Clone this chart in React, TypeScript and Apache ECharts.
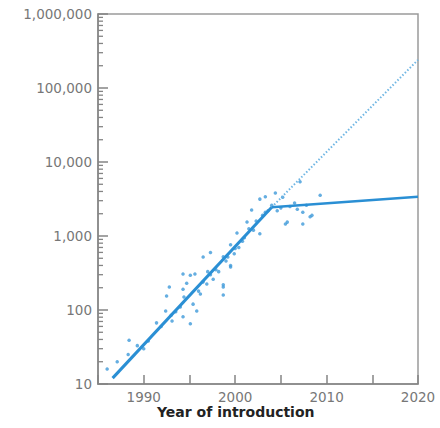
import React, { useEffect, useRef } from "react";
import * as echarts from "echarts";

const fitEarlyYears = [1986.6, 2004.0];
const fitEarlyValues = [12, 2450];
const fitExtYears = [2004.0, 2020.0];
const fitExtValues = [2450, 240000];
const fitLateYears = [2004.0, 2020.0];
const fitLateValues = [2450, 3400];

const scatterYears = [
  1986.0, 1987.1, 1988.3, 1988.4, 1989.3, 1990.5, 1991.4, 1991.9, 1992.4, 1992.5,
  1992.8, 1993.1, 1993.5, 1994.0, 1994.3, 1994.3, 1994.4, 1994.3, 1994.7, 1995.1,
  1995.1, 1995.4, 1995.6, 1995.8, 1996.0, 1996.2, 1996.5, 1996.5, 1996.9, 1997.3,
  1997.3, 1997.6, 1997.9, 1998.2, 1998.7, 1998.7, 1998.7, 1998.7, 1999.0, 1999.5,
  1999.5, 1999.5, 1999.9, 2000.2, 2000.4, 2000.8, 2001.3, 2001.0, 2001.8, 2002.0,
  2002.3, 2002.7, 2002.7, 2003.0, 2003.3, 2003.6, 2004.0, 2004.4, 2004.6, 2005.2,
  2005.5, 2005.7, 2006.0, 2006.5, 2006.8, 2007.1, 2007.4, 2007.4, 2007.8, 2008.2,
  2008.4, 2009.3, 1990.0, 1993.0, 1997.0, 1999.2, 2000.0, 2001.5, 2003.3, 2005.0,
];
const scatterValues = [
  16, 20, 25, 39, 33, 38, 67, 60, 97, 155,
  205, 71, 95, 110, 191, 307, 150, 81, 230, 65,
  295, 120, 307, 97, 180, 165, 520, 240, 225, 600,
  300, 260, 350, 330, 205, 160, 220, 525, 460, 400,
  760, 380, 575, 1100, 700, 850, 1550, 950, 2250, 1200,
  1600, 3150, 1070, 1900, 3400, 2200, 2600, 3800, 2200, 3350,
  1450, 1540, 2500, 2800, 2300, 5400, 1450, 2100, 2600, 1820,
  1900, 3550, 30, 85, 330, 520, 680, 1250, 2100, 2400,
];

const xTickLabels = ["1990", "2000", "2010", "2020"];
const yTickLabels = ["10", "100", "1,000", "10,000", "100,000", "1,000,000"];

export default function App() {
  const ref = useRef<HTMLDivElement>(null);
  useEffect(() => {
    if (!ref.current) return;
    const chart = echarts.init(ref.current, undefined, { renderer: "svg" });
    const minorVals: number[][] = [];
    for (let e = 1; e < 6; e++) {
      for (let m = 2; m <= 9; m++) minorVals.push([1985, m * Math.pow(10, e)]);
    }
    const font = "DejaVu Sans";
    const axisGrey = "#858585";
    chart.setOption({
      animation: false,
      grid: {
        left: 98,
        right: 22,
        top: 14,
        bottom: 44,
        show: true,
        borderColor: "#9a9a9a",
        borderWidth: 1.5,
      },
      title: {
        text: "Year of introduction",
        left: 157,
        top: 405,
        textStyle: { fontFamily: font, fontSize: 14, fontWeight: "bold", color: "#222" },
        padding: 0,
      },
      xAxis: {
        type: "value",
        min: 1985,
        max: 2020,
        interval: 5,
        splitLine: { show: false },
        axisLine: { show: true, lineStyle: { color: axisGrey, width: 1.5 } },
        axisTick: { show: true, inside: true, length: 9, lineStyle: { color: axisGrey, width: 1.5 } },
        axisLabel: {
          margin: 6,
          color: "#777",
          fontFamily: font,
          fontSize: 13.5,
          formatter: (v: number) => {
            const s = String(Math.round(v));
            return xTickLabels.includes(s) ? s : "";
          },
        },
      },
      yAxis: {
        type: "log",
        logBase: 10,
        min: 10,
        max: 1000000,
        splitNumber: 5,
        splitLine: { show: false },
        axisLine: { show: true, lineStyle: { color: axisGrey, width: 1.5 } },
        axisTick: { show: true, inside: true, length: 10, lineStyle: { color: axisGrey, width: 1.5 } },
        axisLabel: {
          margin: 6,
          color: "#777",
          fontFamily: font,
          fontSize: 13.5,
          formatter: (v: number) => {
            const i = Math.round(Math.log10(v)) - 1;
            return yTickLabels[i] ?? "";
          },
        },
      },
      series: [
        {
          type: "custom",
          silent: true,
          clip: false,
          z: 5,
          data: minorVals,
          renderItem: (params: any, api: any) => {
            const p = api.coord([api.value(0), api.value(1)]);
            return {
              type: "line",
              shape: { x1: p[0], y1: p[1], x2: p[0] + 5, y2: p[1] },
              style: { stroke: axisGrey, lineWidth: 1.3 },
            };
          },
        },
        {
          type: "scatter",
          symbol: "circle",
          symbolSize: 3.5,
          itemStyle: { color: "#3f9ad9" },
          data: scatterYears.map((y, i) => [y, scatterValues[i]]),
        },
        {
          type: "line",
          symbol: "none",
          lineStyle: { color: "#6fb6e4", width: 2, type: [1.5, 2] },
          data: fitExtYears.map((y, i) => [y, fitExtValues[i]]),
        },
        {
          type: "line",
          symbol: "none",
          lineStyle: { color: "#2a8fd4", width: 3 },
          data: fitEarlyYears.map((y, i) => [y, fitEarlyValues[i]]),
        },
        {
          type: "line",
          symbol: "none",
          lineStyle: { color: "#2a8fd4", width: 2.5 },
          data: fitLateYears.map((y, i) => [y, fitLateValues[i]]),
        },
      ],
    });
    return () => chart.dispose();
  }, []);
  return <div ref={ref} style={{ width: 440, height: 428, position: "absolute", left: 0, top: 0 }} />;
}
